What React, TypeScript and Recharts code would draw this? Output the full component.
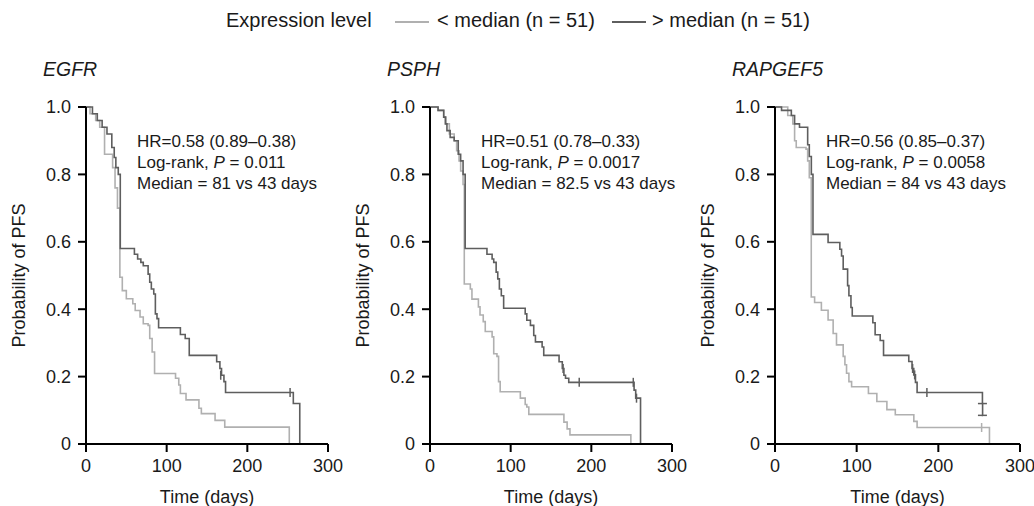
import React from 'react';
import { ComposedChart, Line, Scatter, XAxis, YAxis, Label } from 'recharts';

const xTicks = [0, 100, 200, 300];
const yTicks = [0, 0.2, 0.4, 0.6, 0.8, 1.0];

const legendTitle = 'Expression level';
const lowLabel = '< median (n = 51)';
const highLabel = '> median (n = 51)';

// EGFR
const egfrLowTime = [0, 5, 12, 17, 23, 33, 36, 39, 42, 45, 50, 58, 61, 67, 71, 77, 79, 82, 85, 111, 115, 117, 124, 140, 143, 160, 172, 252];
const egfrLowSurv = [1, 0.98, 0.96, 0.94, 0.86, 0.82, 0.76, 0.7, 0.495, 0.455, 0.431, 0.416, 0.396, 0.377, 0.357, 0.352, 0.313, 0.273, 0.209, 0.195, 0.175, 0.15, 0.131, 0.106, 0.09, 0.07, 0.05, 0];
const egfrHighTime = [0, 8, 14, 20, 26, 32, 35, 37, 40, 42.5, 60, 64, 68, 71, 77, 79, 81, 84, 86, 88, 90, 117, 123, 128, 162, 166, 168, 171, 173, 257, 265];
const egfrHighSurv = [1, 0.98, 0.96, 0.94, 0.92, 0.88, 0.85, 0.82, 0.8, 0.58, 0.563, 0.549, 0.539, 0.529, 0.504, 0.48, 0.46, 0.445, 0.386, 0.372, 0.345, 0.325, 0.313, 0.263, 0.244, 0.224, 0.204, 0.185, 0.153, 0.12, 0];
const egfrHighCensorTime = [167, 253];
const egfrHighCensorSurv = [0.204, 0.153];
const egfrLowCensorTime: number[] = [];
const egfrLowCensorSurv: number[] = [];

// PSPH
const psphLowTime = [0, 10, 17, 20, 24, 30, 33, 36, 38, 41, 42.5, 50, 52, 60, 62, 66, 68.5, 77, 79, 83, 85, 87, 112, 118, 120, 122.5, 166, 170, 173.5, 249];
const psphLowSurv = [1, 0.99, 0.97, 0.95, 0.92, 0.9, 0.87, 0.84, 0.81, 0.77, 0.475, 0.46, 0.43, 0.407, 0.383, 0.363, 0.334, 0.318, 0.268, 0.26, 0.185, 0.155, 0.136, 0.117, 0.11, 0.088, 0.065, 0.045, 0.027, 0];
const psphHighTime = [0, 10, 17, 19, 21, 25, 30, 35, 38, 41, 43.6, 70.6, 77, 79, 82, 84, 86, 88.4, 91.3, 118, 120, 124.5, 128.6, 130.7, 139, 141, 160, 164, 166, 168, 172, 253, 255, 261];
const psphHighSurv = [1, 0.99, 0.97, 0.95, 0.93, 0.91, 0.9, 0.86, 0.84, 0.8, 0.58, 0.563, 0.549, 0.539, 0.51, 0.49, 0.46, 0.44, 0.403, 0.386, 0.367, 0.352, 0.322, 0.303, 0.288, 0.263, 0.244, 0.224, 0.204, 0.195, 0.183, 0.16, 0.136, 0];
const psphHighCensorTime = [165, 185, 252, 256];
const psphHighCensorSurv = [0.224, 0.183, 0.183, 0.136];
const psphLowCensorTime: number[] = [];
const psphLowCensorSurv: number[] = [];

// RAPGEF5
const rapLowTime = [0, 15.6, 21.8, 24, 26, 38, 40, 42, 44.4, 48.5, 56.8, 65, 71.2, 75.3, 83.5, 85.6, 87.6, 90.5, 93.8, 114.4, 124.7, 137, 147.3, 170, 174, 262.6];
const rapLowSurv = [1, 0.975, 0.95, 0.9, 0.88, 0.875, 0.84, 0.79, 0.436, 0.42, 0.397, 0.368, 0.328, 0.294, 0.26, 0.235, 0.21, 0.185, 0.17, 0.15, 0.126, 0.102, 0.087, 0.067, 0.049, 0];
const rapHighTime = [0, 8, 20, 24, 30, 40, 42, 44.5, 46.5, 65, 79.4, 81.5, 83.5, 88.9, 90.5, 93, 94.6, 119.8, 122.6, 128.8, 132.9, 163.8, 167.8, 169.9, 172, 174, 254, 254.2, 254.4];
const rapHighSurv = [1, 0.99, 0.975, 0.95, 0.94, 0.888, 0.853, 0.8, 0.622, 0.598, 0.578, 0.558, 0.519, 0.47, 0.44, 0.405, 0.38, 0.36, 0.324, 0.307, 0.263, 0.245, 0.224, 0.205, 0.183, 0.153, 0.12, 0.085, 0.085];
const rapHighCensorTime = [168.5, 171, 186];
const rapHighCensorSurv = [0.224, 0.205, 0.153];
const rapHighCapTime = [254, 254];
const rapHighCapSurv = [0.12, 0.085];
const rapLowCensorTime = [253];
const rapLowCensorSurv = [0.049];

const LIGHT = '#b0b0b0';
const DARK = '#5e5e5e';
const FONT = '"Liberation Sans", Arial, Helvetica, sans-serif';

const pts = (t: number[], s: number[]) => t.map((v, i) => ({ t: v, s: s[i] }));

type P = { t: number; s: number };
type PanelProps = {
  left: number;
  plotW: number;
  title: string;
  hr: string;
  p: string;
  median: string;
  low: P[];
  high: P[];
  lowC: P[];
  highC: P[];
  highCap?: P[];
};

const PLOT_LEFT = 86;
const PLOT_TOP = 107;
const PLOT_BOTTOM = 444;
const H = 506;

const tickMark = (color: string) => (props: any) => {
  const { cx, cy } = props;
  if (cx == null || cy == null) return <g />;
  return <line x1={cx} x2={cx} y1={cy - 4.5} y2={cy + 4.5} stroke={color} strokeWidth={1.5} />;
};

const capMark = (color: string) => (props: any) => {
  const { cx, cy } = props;
  if (cx == null || cy == null) return <g />;
  return <line x1={cx - 4.5} x2={cx + 4.5} y1={cy} y2={cy} stroke={color} strokeWidth={1.5} />;
};

const Panel = ({ left, plotW, title, hr, p, median, low, high, lowC, highC, highCap }: PanelProps) => {
  const width = PLOT_LEFT + plotW + 18;
  return (
    <div style={{ position: 'absolute', left: left - PLOT_LEFT, top: 0, width, height: H }}>
      <ComposedChart
        width={width}
        height={H}
        margin={{ top: PLOT_TOP, right: 18, bottom: 0, left: 0 }}
      >
        <XAxis
          type="number"
          dataKey="t"
          domain={[0, 300]}
          ticks={xTicks}
          allowDataOverflow
          height={H - PLOT_BOTTOM}
          tickSize={8}
          tickMargin={7}
          axisLine={{ stroke: '#000', strokeWidth: 2 }}
          tickLine={{ stroke: '#000', strokeWidth: 2 }}
          tick={{ fill: '#1a1a1a', fontSize: 18, fontFamily: FONT }}
        >
          <Label
            content={(lp: any) => {
              const vb = lp.viewBox || {};
              return (
                <text x={vb.x + vb.width / 2} y={vb.y + 53} textAnchor="middle" dominantBaseline="central" fontSize={18} fontFamily={FONT} fill="#1a1a1a">
                  Time (days)
                </text>
              );
            }}
          />
        </XAxis>
        <YAxis
          type="number"
          domain={[0, 1]}
          ticks={yTicks}
          width={PLOT_LEFT}
          tickSize={8}
          tickMargin={7}
          tickFormatter={(v: number) => (v === 0 ? '0' : v.toFixed(1))}
          axisLine={{ stroke: '#000', strokeWidth: 2 }}
          tickLine={{ stroke: '#000', strokeWidth: 2 }}
          tick={{ fill: '#1a1a1a', fontSize: 18, fontFamily: FONT }}
        >
          <Label
            content={(lp: any) => {
              const vb = lp.viewBox || {};
              const cx = vb.x + 19;
              const cy = vb.y + vb.height / 2;
              return (
                <text x={cx} y={cy} transform={`rotate(-90, ${cx}, ${cy})`} textAnchor="middle" dominantBaseline="central" fontSize={18} fontFamily={FONT} fill="#1a1a1a">
                  Probability of PFS
                </text>
              );
            }}
          />
        </YAxis>
        <Line data={low} dataKey="s" type="stepAfter" stroke={LIGHT} strokeWidth={1.6} dot={false} isAnimationActive={false} />
        <Line data={high} dataKey="s" type="stepAfter" stroke={DARK} strokeWidth={1.6} dot={false} isAnimationActive={false} />
        <Scatter data={lowC} dataKey="s" shape={tickMark(LIGHT)} isAnimationActive={false} />
        <Scatter data={highC} dataKey="s" shape={tickMark(DARK)} isAnimationActive={false} />
        {highCap ? <Scatter data={highCap} dataKey="s" shape={capMark(DARK)} isAnimationActive={false} /> : null}
      </ComposedChart>
      <div style={{ position: 'absolute', left: PLOT_LEFT - 43, top: 58, fontSize: 19.5, fontStyle: 'italic', fontFamily: FONT, color: '#1a1a1a', whiteSpace: 'nowrap' }}>
        {title}
      </div>
      <div style={{ position: 'absolute', left: PLOT_LEFT + 51, top: 131, fontSize: 17, lineHeight: '21px', fontFamily: FONT, color: '#1a1a1a', whiteSpace: 'nowrap' }}>
        <div>{hr}</div>
        <div>
          Log-rank, <i>P</i> = {p}
        </div>
        <div>{median}</div>
      </div>
    </div>
  );
};

const Legend = () => (
  <div style={{ position: 'absolute', left: 0, top: 0, width: 1034, height: 40, fontFamily: FONT, fontSize: 20, color: '#1a1a1a' }}>
    <div style={{ position: 'absolute', left: 226, top: 9, whiteSpace: 'nowrap' }}>{legendTitle}</div>
    <div style={{ position: 'absolute', left: 395, top: 21, width: 34, height: 2, background: LIGHT }} />
    <div style={{ position: 'absolute', left: 437, top: 9, whiteSpace: 'nowrap' }}>{lowLabel}</div>
    <div style={{ position: 'absolute', left: 612, top: 21, width: 34, height: 2, background: DARK }} />
    <div style={{ position: 'absolute', left: 652, top: 9, whiteSpace: 'nowrap' }}>{highLabel}</div>
  </div>
);

export default function App() {
  return (
    <div style={{ position: 'absolute', left: 0, top: 0, width: 1034, height: 506, background: '#fff', overflow: 'hidden' }}>
      <Legend />
      <Panel
        left={86}
        plotW={242}
        title="EGFR"
        hr="HR=0.58 (0.89–0.38)"
        p="0.011"
        median="Median = 81 vs 43 days"
        low={pts(egfrLowTime, egfrLowSurv)}
        high={pts(egfrHighTime, egfrHighSurv)}
        lowC={pts(egfrLowCensorTime, egfrLowCensorSurv)}
        highC={pts(egfrHighCensorTime, egfrHighCensorSurv)}
      />
      <Panel
        left={430}
        plotW={242}
        title="PSPH"
        hr="HR=0.51 (0.78–0.33)"
        p="0.0017"
        median="Median = 82.5 vs 43 days"
        low={pts(psphLowTime, psphLowSurv)}
        high={pts(psphHighTime, psphHighSurv)}
        lowC={pts(psphLowCensorTime, psphLowCensorSurv)}
        highC={pts(psphHighCensorTime, psphHighCensorSurv)}
      />
      <Panel
        left={775}
        plotW={245}
        title="RAPGEF5"
        hr="HR=0.56 (0.85–0.37)"
        p="0.0058"
        median="Median = 84 vs 43 days"
        low={pts(rapLowTime, rapLowSurv)}
        high={pts(rapHighTime, rapHighSurv)}
        lowC={pts(rapLowCensorTime, rapLowCensorSurv)}
        highC={pts(rapHighCensorTime, rapHighCensorSurv)}
        highCap={pts(rapHighCapTime, rapHighCapSurv)}
      />
    </div>
  );
}
